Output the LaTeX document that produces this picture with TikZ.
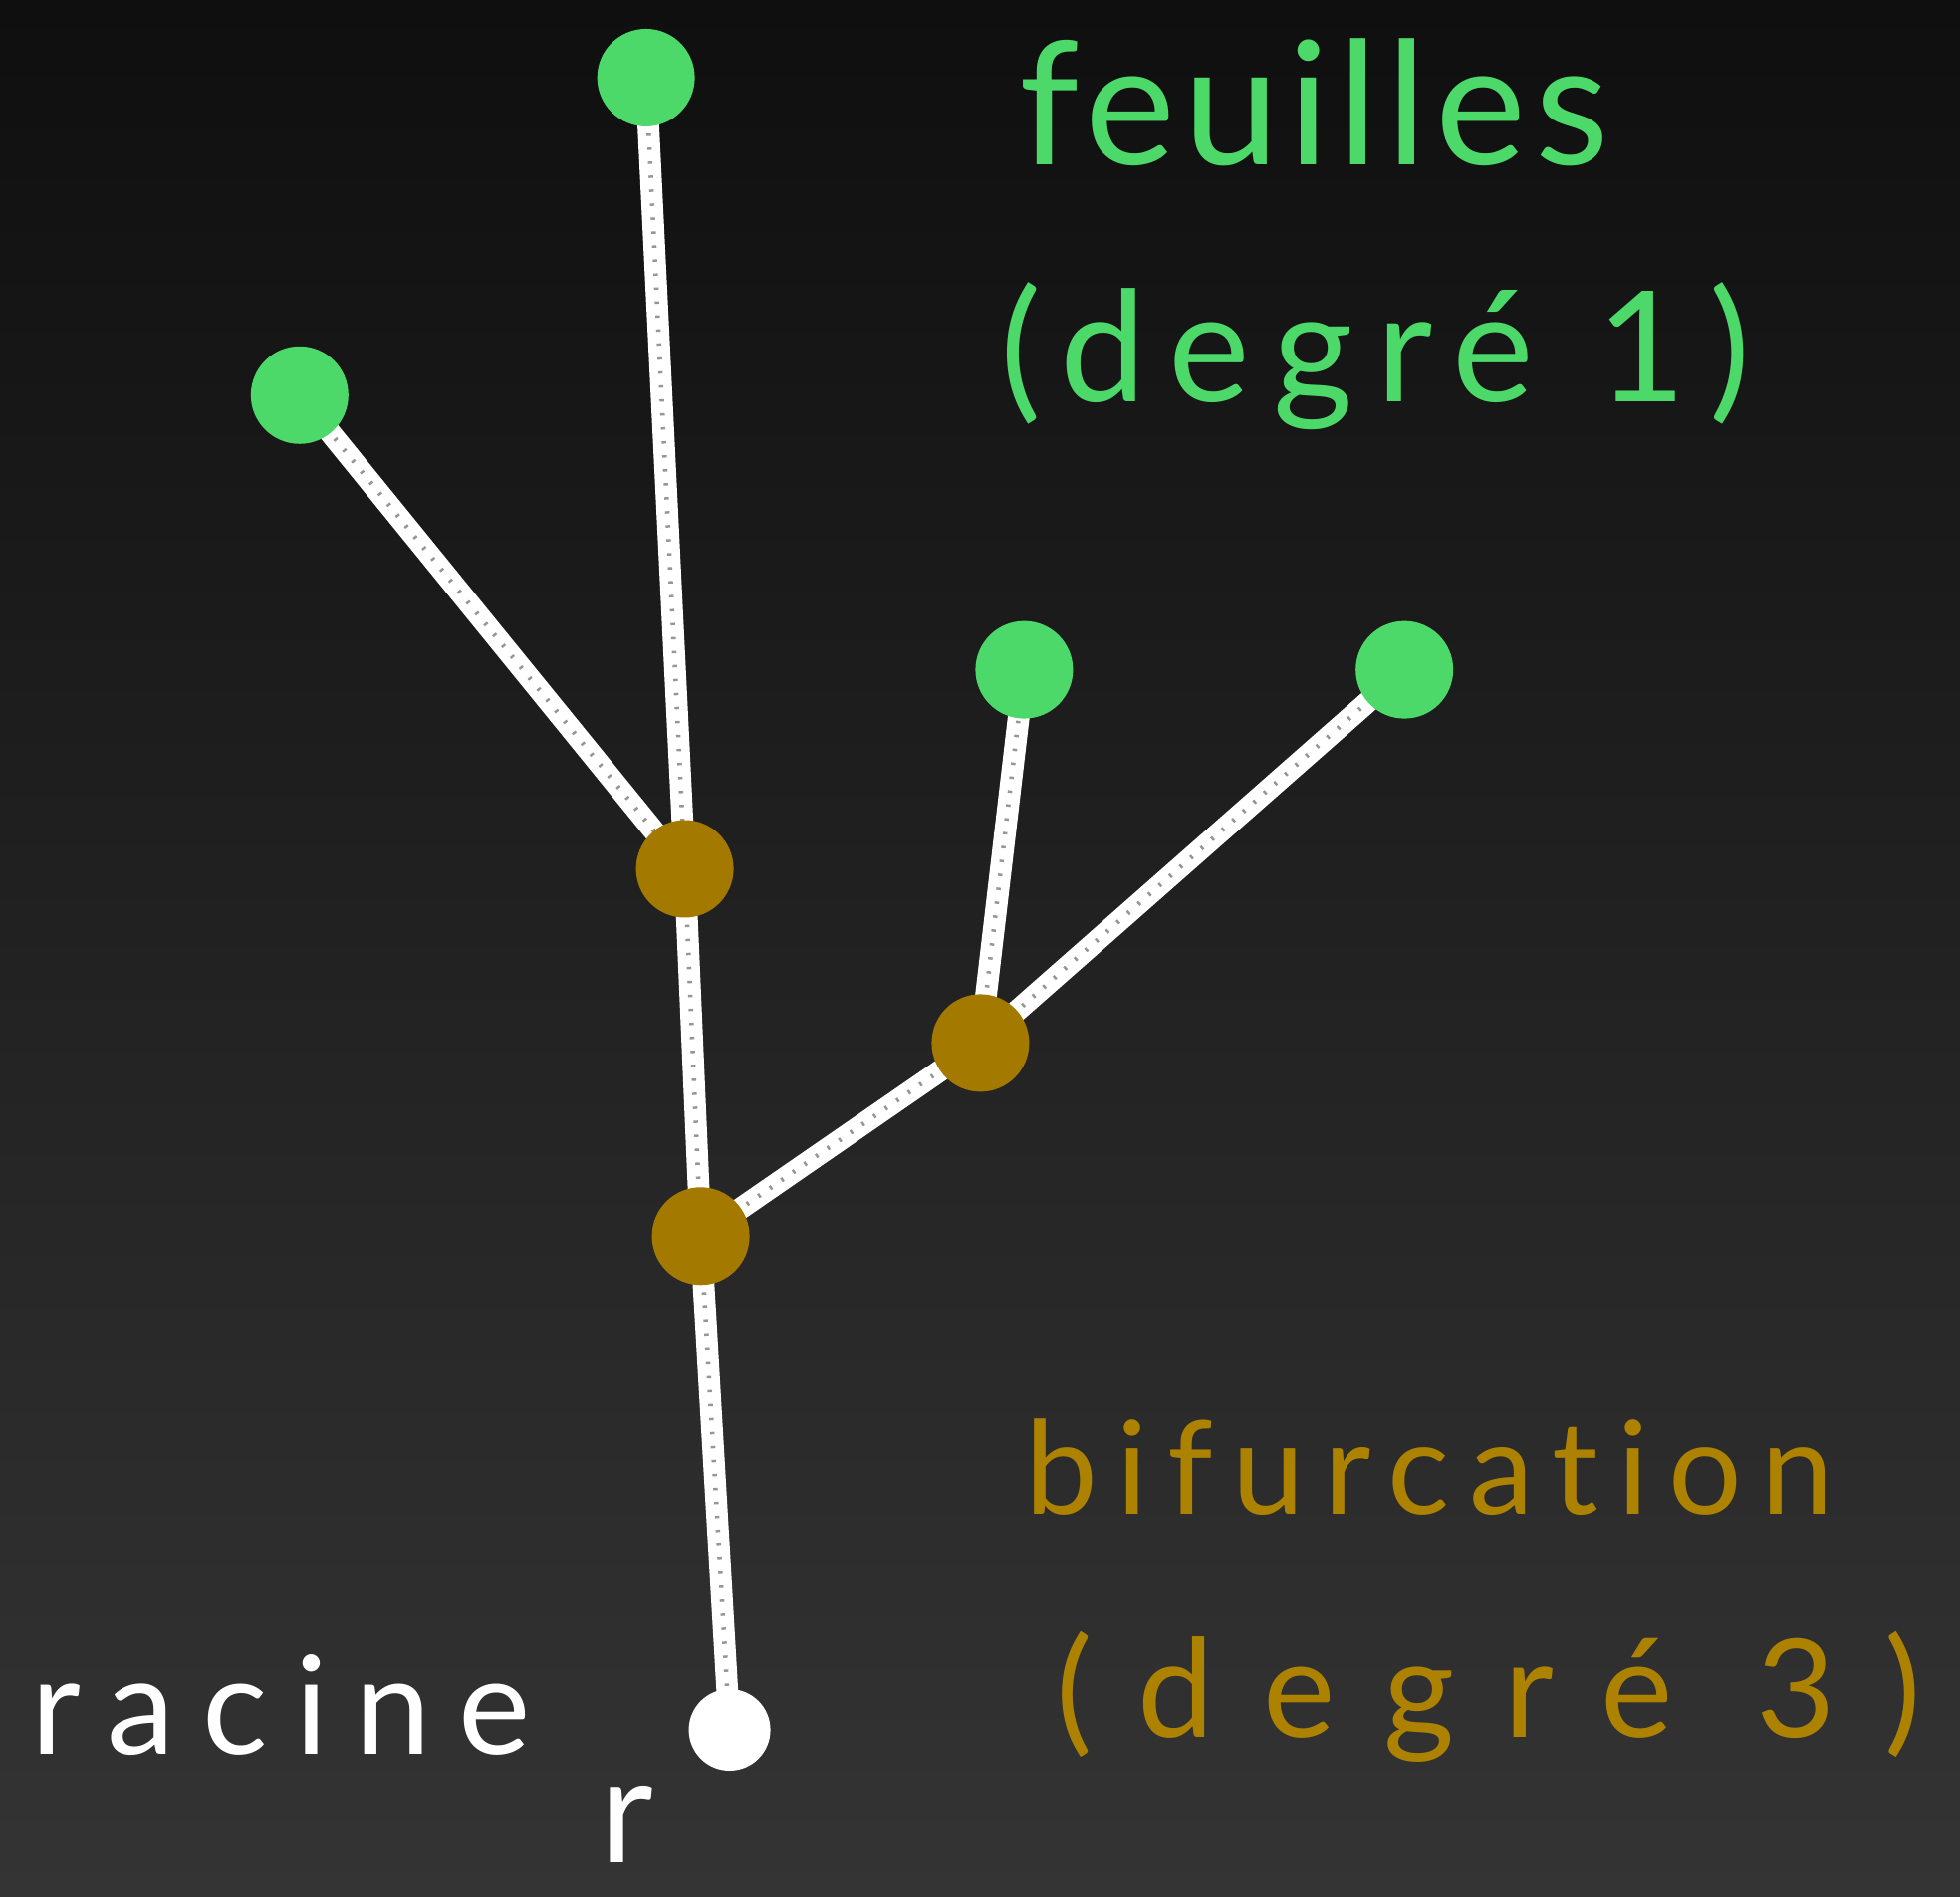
\documentclass[tikz,border=0pt]{standalone}
\usepackage{fontspec}
\setmainfont{Lato}[Ligatures={NoCommon}]
\definecolor{leafc}{HTML}{4CD96A}
\definecolor{bifc}{HTML}{A37900}
\definecolor{biftxt}{HTML}{AD8200}
\definecolor{bgtop}{HTML}{0F0F0F}
\definecolor{bgbot}{HTML}{343434}
\pgfdeclarelayer{bglayer}
\pgfdeclarelayer{edgelayer}
\pgfsetlayers{bglayer,edgelayer,main}
\begin{document}
\begin{tikzpicture}[x=0.01cm,y=-0.01cm,
  blob/.style={circle,minimum size=0.98cm,inner sep=0pt,draw=none},
  leafnode/.style={blob,fill=leafc},
  bifnode/.style={blob,fill=bifc},
  rootnode/.style={blob,fill=white,minimum size=0.82cm},
  chalk/.style={draw=white,line width=6.2pt,line cap=round},
  speck/.style={draw=black!75,line width=1.3pt,dash pattern=on 0.7pt off 3.3pt,opacity=0.55},
  lbl/.style={anchor=base west,inner sep=0pt}
]
\begin{pgfonlayer}{bglayer}
  \shade[top color=bgtop,bottom color=bgbot] (0cm,0cm) rectangle (19.68cm,-19.05cm);
\end{pgfonlayer}
\useasboundingbox (0cm,0cm) rectangle (19.68cm,-19.05cm);

\node[leafnode] (L1) at (649,78) {};
\node[leafnode] (L2) at (301,397) {};
\node[leafnode] (L3) at (1029,673) {};
\node[leafnode] (L4) at (1411,673) {};
\node[bifnode] (B1) at (688,873) {};
\node[bifnode] (B2) at (985,1048) {};
\node[bifnode] (B3) at (704,1242) {};
\node[rootnode] (R) at (733,1738) {};

\begin{pgfonlayer}{edgelayer}
  \foreach \a/\b in {L1/B1,L2/B1,B1/B3,B3/R,B3/B2,B2/L3,B2/L4}{
    \draw[chalk] (\a.center) -- (\b.center);
    \draw[speck] (\a.center) -- (\b.center);
  }
\end{pgfonlayer}

\node[lbl,text=leafc,font={\fontsize{49}{55}\selectfont\addfontfeature{LetterSpace=5}}] (t1) at (1023,166) {feuilles};
\node[lbl,text=leafc,font={\fontsize{44}{50}\selectfont\addfontfeature{LetterSpace=15}}] (t2) at (1004,404) {(degré 1)};
\node[lbl,text=biftxt,font={\fontsize{37}{42}\selectfont\addfontfeature{LetterSpace=15}}] (t3) at (1029,1521) {bifurcation};
\node[lbl,text=biftxt,font={\fontsize{39}{44}\selectfont\addfontfeature{LetterSpace=36}}] (t4) at (1060,1745) {(degré 3)};
\node[lbl,text=white,font={\fontsize{39}{44}\selectfont\addfontfeature{LetterSpace=20}}] (t5) at (31,1763) {racine};
\node[lbl,text=white,font={\fontsize{42}{48}\selectfont}] (t6) at (602,1872) {r};
\end{tikzpicture}
\end{document}
